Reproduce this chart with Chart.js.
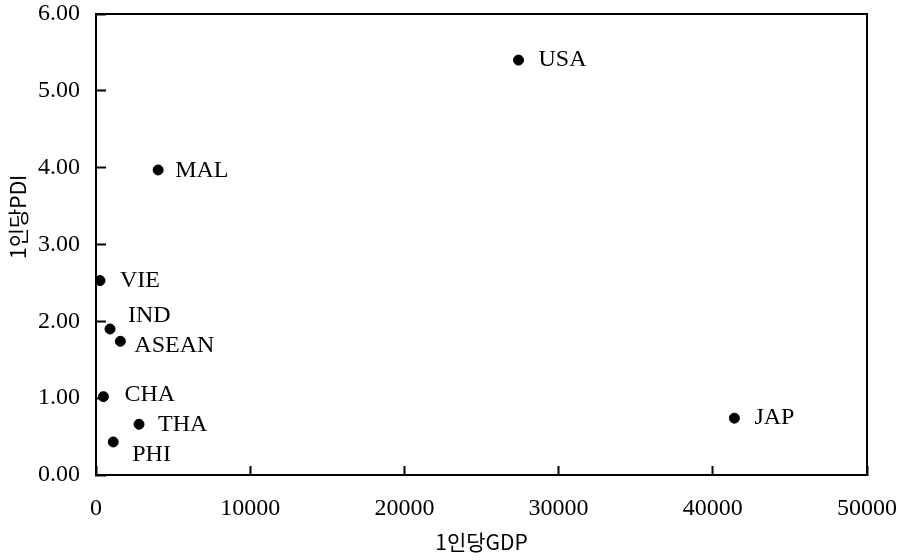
<!DOCTYPE html>
<html>
<head>
<meta charset="utf-8">
<script src="https://cdn.jsdelivr.net/npm/chart.js@4/dist/chart.umd.min.js"></script>
<style>
  html, body { margin: 0; padding: 0; background: #fff; }
  #wrap { width: 898px; height: 560px; }
</style>
</head>
<body>
<div id="wrap"><canvas id="c" width="898" height="560"></canvas></div>
<script>
// ---- data ----
const countries = ['USA', 'MAL', 'VIE', 'IND', 'ASEAN', 'CHA', 'THA', 'PHI', 'JAP'];
const gdpPerCapita = [27400, 4030, 260, 910, 1580, 480, 2790, 1120, 41400];
const pdiPerCapita = [5.40, 3.97, 2.53, 1.90, 1.74, 1.02, 0.66, 0.43, 0.74];
const xTicks = [0, 10000, 20000, 30000, 40000, 50000];
const yTicks = [0, 1, 2, 3, 4, 5, 6];
const xTitle = '1인당GDP';
const yTitle = '1인당PDI';

// label offsets (style only): [dx, dy] in px from the point
const labelOffsets = [[20, 0], [17, 1], [20, 0], [18, -13], [14, 4], [21, -2], [19, 0], [19, 13], [20, 0]];

const serif = '"Liberation Serif", "DejaVu Serif", serif';
const korean = '"Noto Sans CJK KR", sans-serif';

const points = countries.map((c, i) => ({ x: gdpPerCapita[i], y: pdiPerCapita[i] }));

const boxPlugin = {
  id: 'box',
  afterDraw(chart) {
    const { ctx, chartArea: a } = chart;
    ctx.save();
    ctx.strokeStyle = '#000';
    ctx.lineWidth = 2;
    ctx.strokeRect(a.left, a.top, a.right - a.left, a.bottom - a.top);
    // y axis title (rotated), placed left of the axis
    ctx.font = '21px ' + korean;
    ctx.fillStyle = '#000';
    ctx.textAlign = 'center';
    ctx.textBaseline = 'middle';
    ctx.translate(18, a.top + (a.bottom - a.top) * 0.44);
    ctx.rotate(-Math.PI / 2);
    ctx.fillText(yTitle, 0, 0);
    ctx.restore();
  }
};

const labelPlugin = {
  id: 'pointLabels',
  afterDatasetsDraw(chart) {
    const { ctx } = chart;
    const meta = chart.getDatasetMeta(0);
    ctx.save();
    ctx.font = '24px ' + serif;
    ctx.fillStyle = '#000';
    ctx.textAlign = 'left';
    ctx.textBaseline = 'middle';
    meta.data.forEach((el, i) => {
      const o = labelOffsets[i];
      ctx.fillText(countries[i], el.x + o[0], el.y + o[1]);
    });
    ctx.restore();
  }
};

new Chart(document.getElementById('c'), {
  type: 'scatter',
  data: {
    datasets: [{
      data: points,
      backgroundColor: '#000',
      borderColor: '#000',
      pointRadius: 5,
      pointHoverRadius: 5
    }]
  },
  options: {
    responsive: false,
    animation: false,
    devicePixelRatio: 1,
    layout: { padding: { left: 0, top: 14, right: 31, bottom: 0 } },
    plugins: { legend: { display: false }, tooltip: { enabled: false } },
    scales: {
      x: {
        type: 'linear',
        min: xTicks[0],
        max: xTicks[xTicks.length - 1],
        afterBuildTicks(scale) { scale.ticks = xTicks.map(v => ({ value: v })); },
        afterFit(scale) { scale.height = 85; scale.paddingLeft = 0; scale.paddingRight = 0; },
        grid: { drawOnChartArea: false, tickLength: -9, tickWidth: 2, color: '#000' },
        border: { display: true, color: '#000', width: 2 },
        ticks: {
          color: '#000',
          padding: 28,
          maxRotation: 0,
          font: { family: serif, size: 24 },
          callback: v => String(v)
        },
        title: {
          display: true,
          text: xTitle,
          color: '#000',
          font: { family: korean, size: 21 },
          padding: { top: 0, bottom: 5 }
        }
      },
      y: {
        type: 'linear',
        min: yTicks[0],
        max: yTicks[yTicks.length - 1],
        afterBuildTicks(scale) { scale.ticks = yTicks.map(v => ({ value: v })); },
        afterFit(scale) { scale.width = 96; scale.paddingTop = 0; scale.paddingBottom = 0; },
        grid: { drawOnChartArea: false, tickLength: -10, tickWidth: 2, color: '#000' },
        border: { display: true, color: '#000', width: 2 },
        ticks: {
          color: '#000',
          padding: 26,
          font: { family: serif, size: 24 },
          callback: v => Number(v).toFixed(2)
        },
        title: { display: false }
      }
    }
  },
  plugins: [boxPlugin, labelPlugin]
});
</script>
</body>
</html>
